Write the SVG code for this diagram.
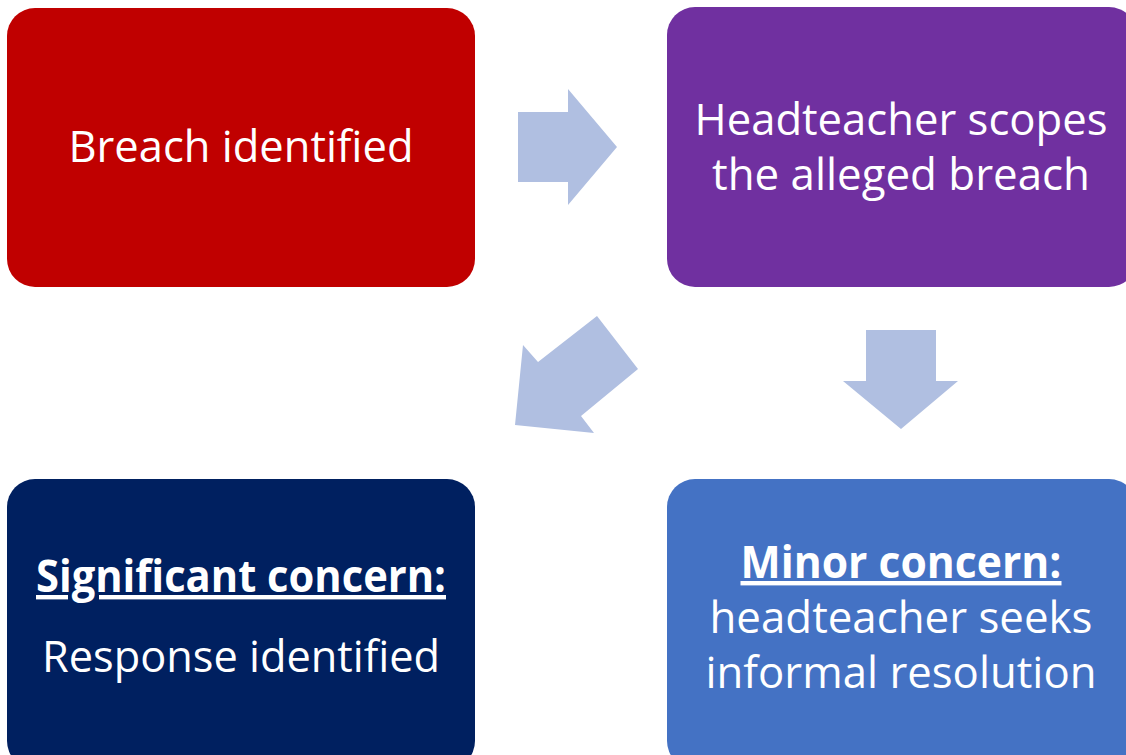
<svg xmlns="http://www.w3.org/2000/svg" width="1126" height="755" viewBox="0 0 1126 755">
<style>
.t{font-family:"Open Sans","Liberation Sans",sans-serif;font-size:44px;fill:#fff;text-anchor:middle}
.b{font-weight:bold;text-decoration:underline}
.arr{fill:#B0BFE1}
</style>
<rect width="1126" height="755" fill="#fff"/>
<g id="connectors">
<polygon class="arr" points="518,112 568,112 568,89 617,147 568,205 568,182 518,182"/>
<polygon class="arr" points="866,330 936,330 936,381 958,381 901,429 843,381 866,381"/>
<polygon class="arr" points="597,316 638,369 581,416 594,433 515,425 523,345 538,362"/>
</g>
<g id="breach">
<rect x="7" y="8" width="468" height="279" rx="28" fill="#C00000"/>
<text class="t" x="241" y="162" textLength="345" lengthAdjust="spacingAndGlyphs">Breach identified</text>
</g>
<g id="scope">
<rect x="667" y="7" width="470" height="280" rx="28" fill="#7030A0"/>
<text class="t" x="901" y="135" textLength="413" lengthAdjust="spacingAndGlyphs">Headteacher scopes</text>
<text class="t" x="901" y="190" textLength="378" lengthAdjust="spacingAndGlyphs">the alleged breach</text>
</g>
<g id="significant">
<rect x="7" y="479" width="468" height="290" rx="28" fill="#002060"/>
<text class="t b" x="241" y="592" textLength="410" lengthAdjust="spacingAndGlyphs">Significant concern:</text>
<text class="t" x="241" y="672" textLength="398" lengthAdjust="spacingAndGlyphs">Response identified</text>
</g>
<g id="minor">
<rect x="667" y="479" width="470" height="290" rx="28" fill="#4472C4"/>
<text class="t b" x="901" y="578" textLength="321" lengthAdjust="spacingAndGlyphs">Minor concern:</text>
<text class="t" x="901" y="633" textLength="383" lengthAdjust="spacingAndGlyphs">headteacher seeks</text>
<text class="t" x="901" y="688" textLength="391" lengthAdjust="spacingAndGlyphs">informal resolution</text>
</g>
</svg>
